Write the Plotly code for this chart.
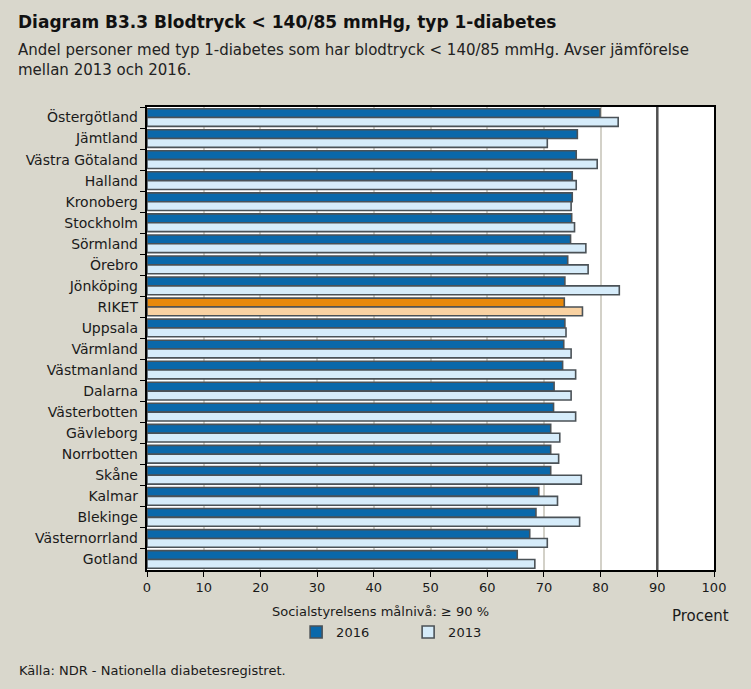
import plotly.graph_objects as go

regions = ["Östergötland", "Jämtland", "Västra Götaland", "Halland", "Kronoberg",
           "Stockholm", "Sörmland", "Örebro", "Jönköping", "RIKET", "Uppsala",
           "Värmland", "Västmanland", "Dalarna", "Västerbotten", "Gävleborg",
           "Norrbotten", "Skåne", "Kalmar", "Blekinge", "Västernorrland", "Gotland"]
values_2016 = [79.9, 75.9, 75.7, 75.0, 75.0, 74.9, 74.7, 74.2, 73.7, 73.6, 73.7,
               73.5, 73.3, 71.8, 71.7, 71.2, 71.2, 71.2, 69.1, 68.6, 67.5, 65.3]
values_2013 = [83.1, 70.6, 79.4, 75.7, 74.8, 75.4, 77.4, 77.8, 83.3, 76.8, 73.9,
               74.8, 75.6, 74.8, 75.6, 72.8, 72.6, 76.6, 72.4, 76.3, 70.6, 68.4]
x_ticks = [0, 10, 20, 30, 40, 50, 60, 70, 80, 90, 100]
target = 90

BG = "#D9D7CC"
C16 = "#0A68AA"
C13 = "#D6ECFA"
C16_R = "#E8890C"
C13_R = "#F9D2A2"
EDGE = "#4B5257"
FONT = "DejaVu Sans"

colors16 = [C16_R if r == "RIKET" else C16 for r in regions]
colors13 = [C13_R if r == "RIKET" else C13 for r in regions]

fig = go.Figure()
fig.add_trace(go.Bar(y=regions, x=values_2016, orientation="h", name="2016",
                     marker=dict(color=colors16, line=dict(color=EDGE, width=1.6))))
fig.add_trace(go.Bar(y=regions, x=values_2013, orientation="h", name="2013",
                     marker=dict(color=colors13, line=dict(color=EDGE, width=1.6))))

fig.add_shape(type="line", x0=target, x1=target, y0=0, y1=1, xref="x", yref="paper",
              line=dict(color="#505050", width=2.5), layer="above")

fig.update_layout(
    width=751, height=689,
    paper_bgcolor=BG, plot_bgcolor="white",
    margin=dict(l=147, r=37, t=107, b=119),
    barmode="group", bargap=0.16, bargroupgap=0.0,
    font=dict(family=FONT, size=13, color="#1a1a1a"),
    showlegend=True,
    legend=dict(orientation="h", x=0.263, y=-0.134, xanchor="left", yanchor="middle",
                bgcolor="rgba(0,0,0,0)", font=dict(size=13), entrywidth=67,
                itemwidth=30, traceorder="normal"),
    xaxis=dict(range=[0, 100], tickvals=x_ticks, ticks="outside", ticklen=5,
               tickcolor="black", showline=True, linecolor="black", linewidth=1.5,
               mirror=True, showgrid=True, gridcolor="#D3D1C8", gridwidth=2,
               zeroline=False, tickfont=dict(size=13)),
    yaxis=dict(autorange="reversed", ticks="outside", ticklen=5, tickcolor="black",
               tickson="boundaries", showline=True, linecolor="black", linewidth=1.5,
               mirror=True, showgrid=False, tickfont=dict(size=14), ticksuffix=" "),
)

fig.add_annotation(text="<b>Diagram B3.3 Blodtryck < 140/85 mmHg, typ 1-diabetes</b>",
                   xref="paper", yref="paper", x=-0.231, y=1.1836, xanchor="left",
                   yanchor="middle", showarrow=False, font=dict(size=17, color="#111111"))
fig.add_annotation(text="Andel personer med typ 1-diabetes som har blodtryck < 140/85 mmHg. Avser jämförelse<br>mellan 2013 och 2016.",
                   xref="paper", yref="paper", x=-0.231, y=1.1015, xanchor="left",
                   yanchor="middle", align="left", showarrow=False,
                   font=dict(size=15, color="#222222"))
fig.add_annotation(text="Socialstyrelsens målnivå: ≥ 90 %", xref="paper", yref="paper",
                   x=0.411, y=-0.0886, xanchor="center", yanchor="middle", showarrow=False,
                   font=dict(size=13))
fig.add_annotation(text="Procent", xref="paper", yref="paper", x=0.977, y=-0.0994,
                   xanchor="center", yanchor="middle", showarrow=False,
                   font=dict(size=15))
fig.add_annotation(text="Källa: NDR - Nationella diabetesregistret.", xref="paper",
                   yref="paper", x=-0.229, y=-0.216, xanchor="left", yanchor="middle",
                   showarrow=False, font=dict(size=13))

fig.write_html("out.html", config={"displayModeBar": False},
               post_script="document.body.style.margin='0';")
